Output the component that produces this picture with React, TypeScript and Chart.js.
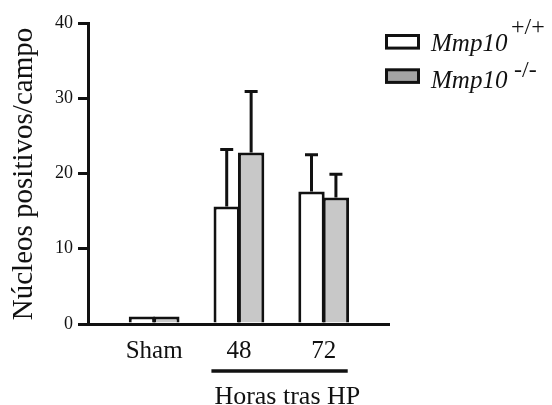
import React, { useEffect, useRef } from "react";
import { Chart, registerables } from "chart.js";

Chart.register(...registerables);

const categories = ["Sham", "48", "72"];
const wildTypeMeans = [1.0, 15.6, 17.6];
const wildTypeErrors = [0, 7.6, 4.9];
const knockoutMeans = [1.0, 22.8, 16.8];
const knockoutErrors = [0, 8.1, 3.1];
const yTickValues = [0, 10, 20, 30, 40];
const seriesNames = ["Mmp10", "Mmp10"];
const seriesSuperscripts = ["+/+", "-/-"];
const yTitle = "Núcleos positivos/campo";
const groupTitle = "Horas tras HP";
const groupedCategoryIndexes = [1, 2];

const WHITE = "#ffffff";
const GRAY = "#c8c8c8";
const LEGEND_GRAY = "#a4a4a4";
const INK = "#111111";
const SERIF = "'Liberation Serif', 'Times New Roman', serif";

const errorBarPlugin = {
  id: "errorBars",
  afterDatasetsDraw(chart: any) {
    const ctx = chart.ctx;
    const yScale = chart.scales.y;
    const errs = [wildTypeErrors, knockoutErrors];
    const means = [wildTypeMeans, knockoutMeans];
    ctx.save();
    ctx.strokeStyle = INK;
    ctx.lineWidth = 3;
    chart.data.datasets.forEach((_: any, di: number) => {
      const meta = chart.getDatasetMeta(di);
      meta.data.forEach((el: any, i: number) => {
        const e = errs[di][i];
        if (!e) return;
        const top = yScale.getPixelForValue(means[di][i] + e);
        ctx.beginPath();
        ctx.moveTo(el.x, el.y);
        ctx.lineTo(el.x, top);
        ctx.moveTo(el.x - 6.5, top);
        ctx.lineTo(el.x + 6.5, top);
        ctx.stroke();
      });
    });
    ctx.restore();
  },
};

const decorPlugin = {
  id: "decor",
  afterDraw(chart: any) {
    const ctx = chart.ctx;
    const xScale = chart.scales.x;
    const area = chart.chartArea;
    ctx.save();
    ctx.fillStyle = INK;

    // y axis title
    ctx.save();
    ctx.translate(32, (area.top + area.bottom) / 2 + 0.5);
    ctx.rotate(-Math.PI / 2);
    ctx.font = `29px ${SERIF}`;
    ctx.textAlign = "center";
    ctx.textBaseline = "alphabetic";
    ctx.fillText(yTitle, 0, 0);
    ctx.restore();

    // group bracket + title
    const p1 = xScale.getPixelForValue(groupedCategoryIndexes[0]);
    const p2 = xScale.getPixelForValue(groupedCategoryIndexes[1]);
    ctx.strokeStyle = INK;
    ctx.lineWidth = 3.3;
    ctx.beginPath();
    ctx.moveTo(p1 - 27.5, 371);
    ctx.lineTo(p2 + 24, 371);
    ctx.stroke();
    ctx.font = `26px ${SERIF}`;
    ctx.textAlign = "center";
    ctx.textBaseline = "alphabetic";
    ctx.fillText(groupTitle, (p1 + p2) / 2 + 6, 404);

    // legend
    const fills = [WHITE, LEGEND_GRAY];
    const boxTops = [35.5, 69.8];
    const baselines = [50.7, 88.3];
    const supBaselines = [34, 76.5];
    const supX = [511, 514];
    for (let i = 0; i < 2; i++) {
      ctx.fillStyle = fills[i];
      ctx.fillRect(386.5, boxTops[i], 32, 12.6);
      ctx.strokeStyle = INK;
      ctx.lineWidth = 3;
      ctx.strokeRect(386.5, boxTops[i], 32, 12.6);
      ctx.fillStyle = INK;
      ctx.textAlign = "left";
      ctx.font = `italic 25px ${SERIF}`;
      ctx.fillText(seriesNames[i], 431, baselines[i]);
      ctx.font = `24px ${SERIF}`;
      ctx.fillText(seriesSuperscripts[i], supX[i], supBaselines[i]);
    }
    ctx.restore();
  },
};

export default function App() {
  const canvasRef = useRef<HTMLCanvasElement | null>(null);

  useEffect(() => {
    const canvas = canvasRef.current;
    if (!canvas) return;
    const chart = new Chart(canvas, {
      type: "bar",
      data: {
        datasets: [
          {
            label: seriesNames[0] + seriesSuperscripts[0],
            data: wildTypeMeans.map((v, i) => ({ x: i, y: v })),
            backgroundColor: WHITE,
            borderColor: INK,
            borderWidth: 3,
            borderSkipped: "start",
          },
          {
            label: seriesNames[1] + seriesSuperscripts[1],
            data: knockoutMeans.map((v, i) => ({ x: i, y: v })),
            backgroundColor: GRAY,
            borderColor: INK,
            borderWidth: 3,
            borderSkipped: "start",
          },
        ],
      },
      options: {
        animation: false,
        responsive: false,
        devicePixelRatio: 1,
        datasets: {
          bar: {
            categoryPercentage: 0.576,
            barPercentage: 1.08,
            grouped: true,
          },
        },
        layout: { padding: { left: 0, right: 163, top: 23, bottom: 0 } },
        plugins: {
          legend: { display: false },
          tooltip: { enabled: false },
          title: { display: false },
        },
        scales: {
          x: {
            type: "linear",
            min: -0.78,
            max: 2.77,
            offset: false,
            afterFit: (s: any) => {
              s.height = 81;
            },
            afterBuildTicks: (s: any) => {
              s.ticks = categories.map((_, i) => ({ value: i }));
            },
            grid: { display: false, drawTicks: false },
            border: { display: true, color: INK, width: 3 },
            ticks: {
              autoSkip: false,
              maxRotation: 0,
              padding: 12,
              color: INK,
              font: { family: SERIF, size: 25 },
              callback: (v: any) => categories[Math.round(Number(v))] ?? "",
            },
          },
          y: {
            type: "linear",
            min: 0,
            max: 40,
            afterFit: (s: any) => {
              s.width = 88;
            },
            afterBuildTicks: (s: any) => {
              s.ticks = yTickValues.map((v) => ({ value: v }));
            },
            grid: {
              display: true,
              drawOnChartArea: false,
              drawTicks: true,
              tickLength: 10,
              lineWidth: 3,
              color: INK,
            },
            border: { display: true, color: INK, width: 3 },
            ticks: {
              padding: 5,
              color: INK,
              font: { family: SERIF, size: 18 },
            },
          },
        },
      },
      plugins: [errorBarPlugin, decorPlugin],
    } as any);
    return () => chart.destroy();
  }, []);

  return (
    <div style={{ position: "absolute", left: 0, top: 0, width: 552, height: 405, background: "#fff" }}>
      <canvas ref={canvasRef} width={552} height={405} style={{ display: "block" }} />
    </div>
  );
}
